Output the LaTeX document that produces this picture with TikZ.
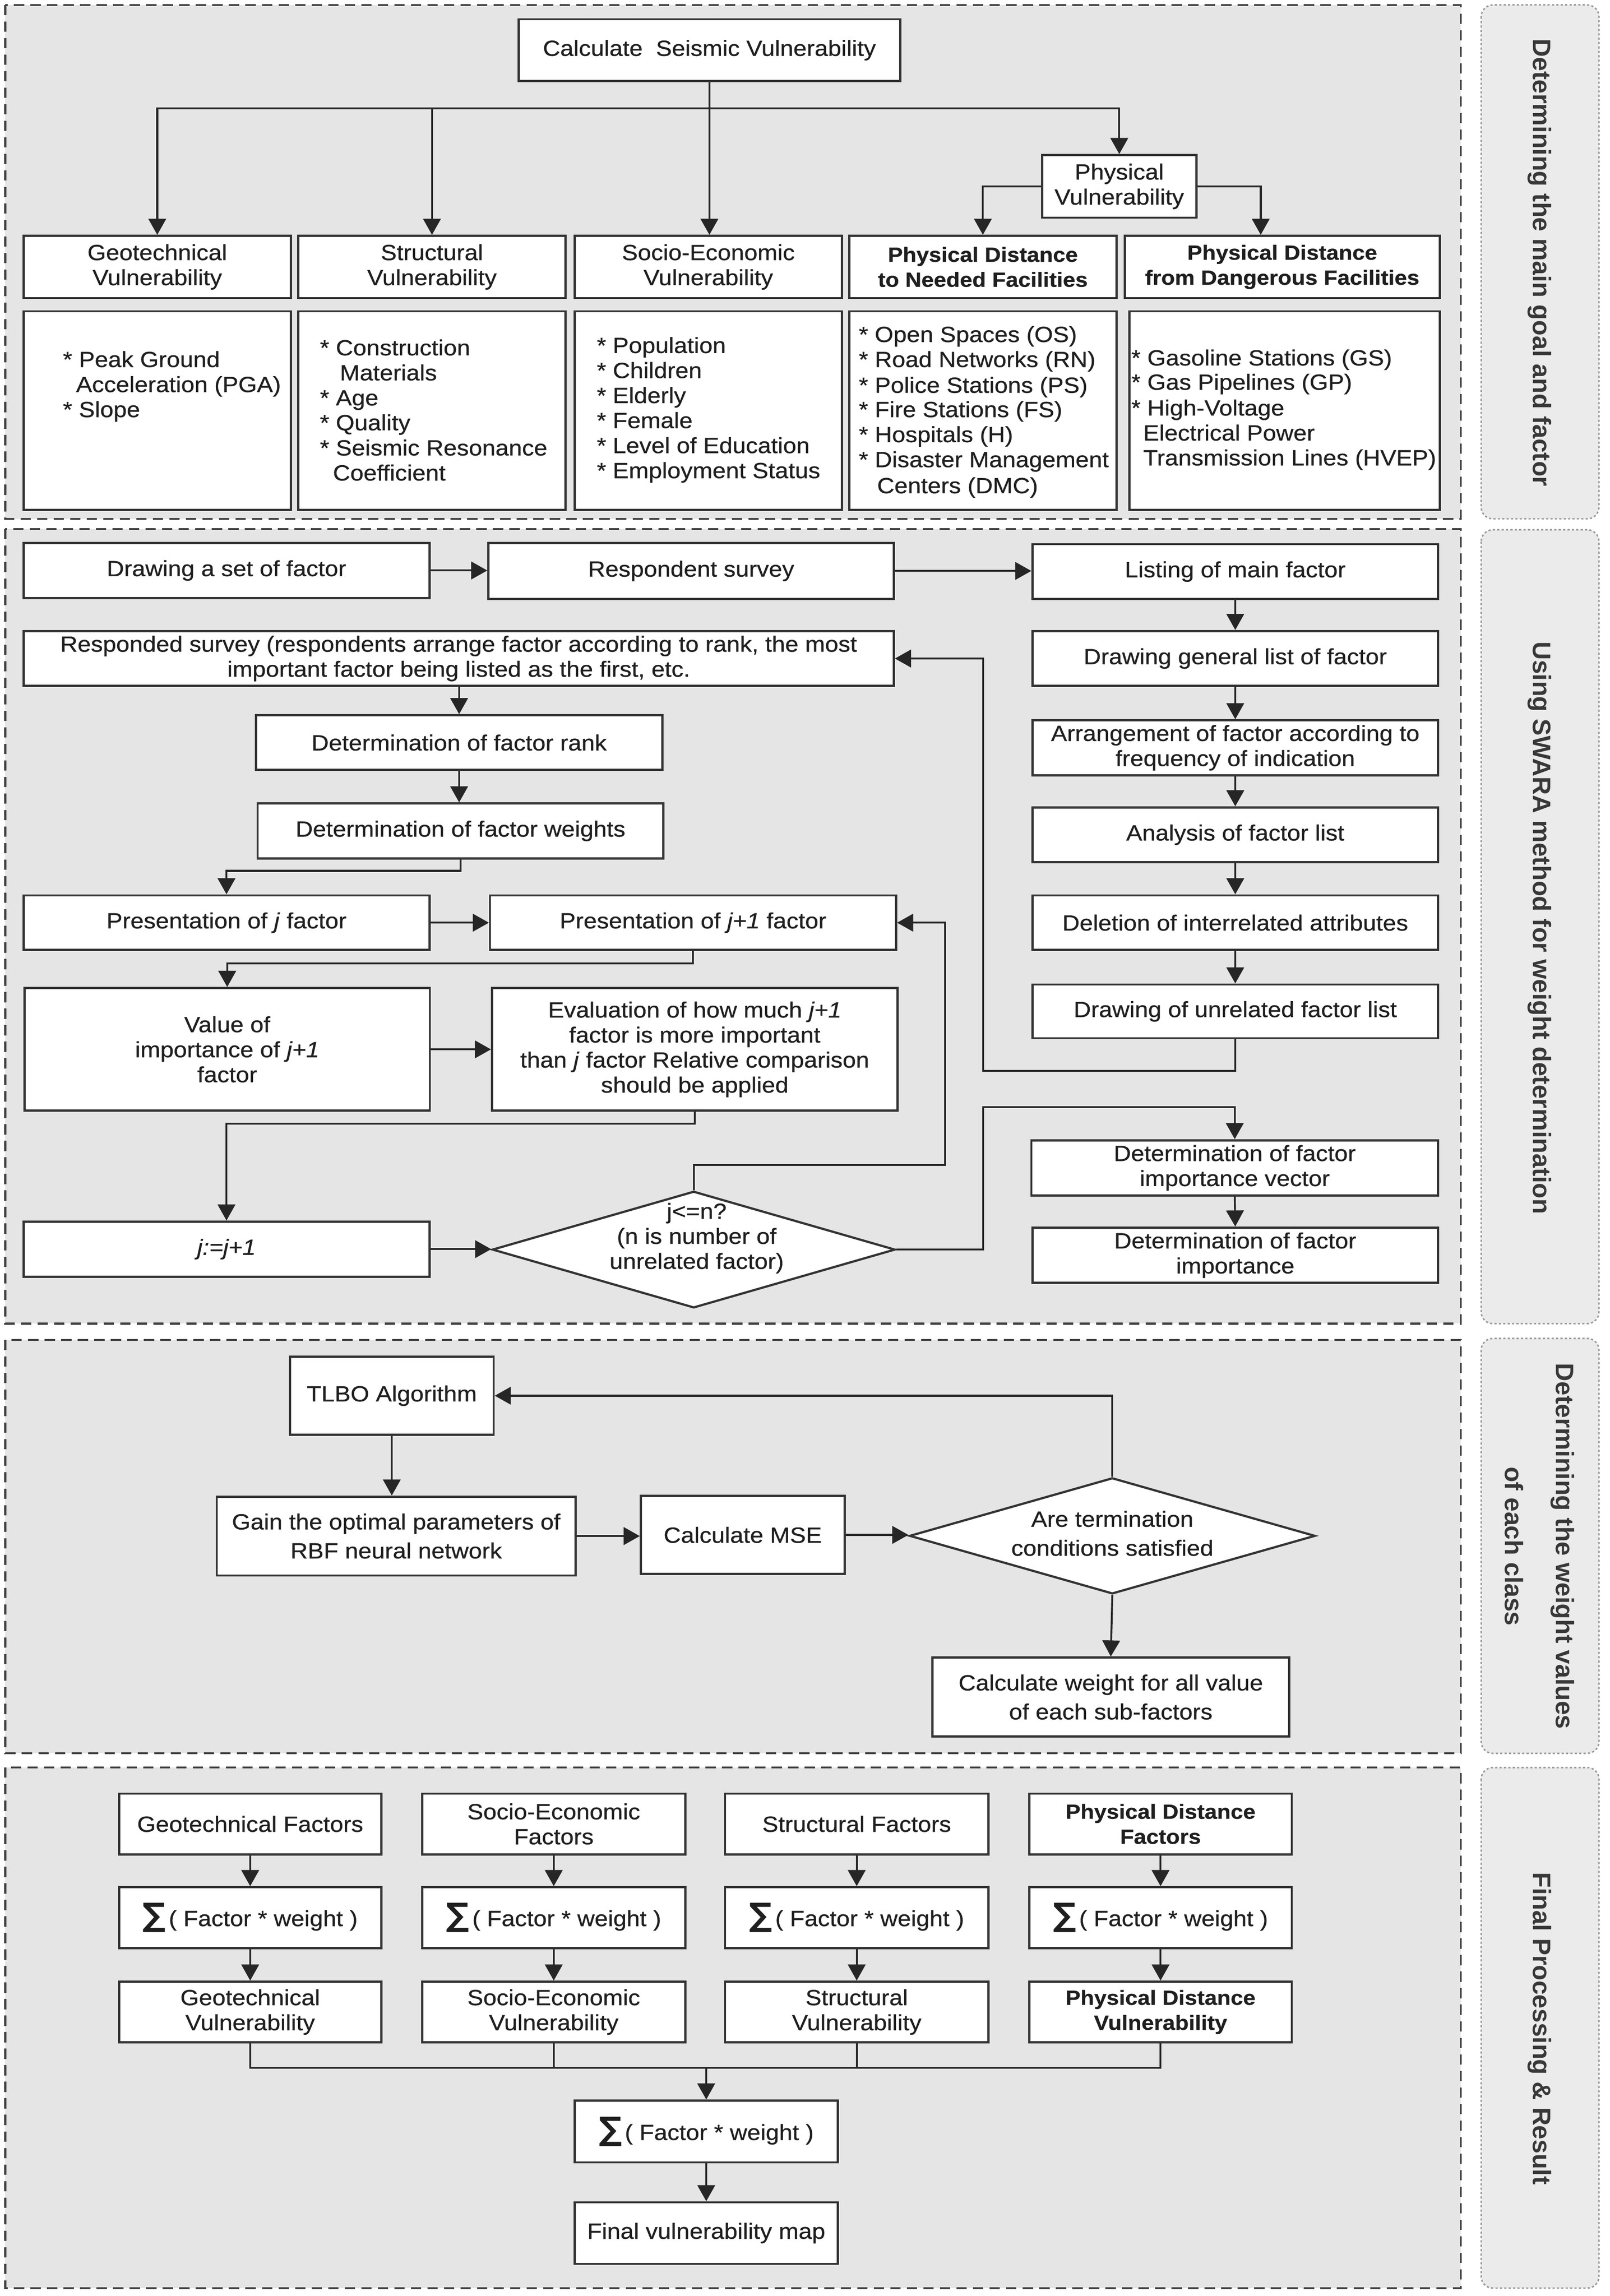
\documentclass[tikz,border=0pt]{standalone}
\usepackage{fontspec}
\setmainfont{Liberation Sans}[FakeStretch=1.09,FakeBold=0.6]
\newfontfamily\lblfont{Liberation Sans}
\newfontfamily\sigfont{DejaVu Sans}
\usetikzlibrary{arrows.meta,shapes.geometric,calc}
\colorlet{txtc}{black!88}
\tikzset{
 box/.style={draw=black!80, line width=1.5pt, fill=white, inner sep=2pt, align=center, text=txtc, font=\fontsize{15}{17.1}\selectfont},
 bbox/.style={font=\fontsize{14}{17.1}\selectfont\bfseries},
 s3box/.style={font=\fontsize{15}{19.8}\selectfont},
 lst/.style={anchor=base west, inner sep=0pt, text=txtc, font=\fontsize{15}{17.1}\selectfont},
 cn/.style={draw=black!85, line width=1.3pt},
 arr/.style={cn, -{Triangle[length=11pt,width=12pt]}},
 sect/.style={draw=black!75, line width=1.3pt, dash pattern=on 7pt off 4.3pt, fill=black!10},
 lbl/.style={draw=black!40, line width=1pt, dash pattern=on 1.5pt off 1.5pt, fill=black!8, rounded corners=8pt},
 lbltxt/.style={rotate=-90, text=black!78, font=\lblfont\bfseries\fontsize{17.3}{20}\selectfont, align=center, inner sep=0pt},
 dia/.style={diamond, draw=black!80, line width=1.5pt, fill=white, inner sep=0pt},
 diatxt/.style={align=center, inner sep=0pt, text=txtc, font=\fontsize{15}{17.1}\selectfont},
}
\newcommand{\bx}[7][]{\node[box,#1, minimum width={(#5-#3)*1pt}, minimum height={(#6-#4)*1pt}] (#2) at ({(#3+#5)/2},{(#4+#6)/2}) {#7};}
\newcommand{\li}[4]{\node[lst] (#1) at (#2,#3) {#4};}
\newcommand{\sumtxt}{{\sigfont\bfseries\fontsize{22}{22}\selectfont ∑}\kern2pt( Factor * weight )}
\begin{document}
\begin{tikzpicture}[x=1pt,y=-1pt]
\useasboundingbox (0,0) rectangle (1100,1568.8);
% sections
\draw[sect] (3.6,3.4) rectangle (998,354.5);
\draw[sect] (3.6,361.4) rectangle (998,904.4);
\draw[sect] (3.6,915.5) rectangle (998,1198);
\draw[sect] (3.6,1207.7) rectangle (998,1563.4);
\draw[lbl] (1012,3.4) rectangle (1092.5,354.5);
\draw[lbl] (1012,362) rectangle (1092.5,904.4);
\draw[lbl] (1012,914.5) rectangle (1092.5,1198);
\draw[lbl] (1012,1207.7) rectangle (1092.5,1563.4);
\node[lbltxt] (t1) at (1052,179.5) {Determining the main goal and factor};
\node[lbltxt] (t2) at (1052,634) {Using SWARA method for weight determination};
\node[lbltxt, font=\lblfont\bfseries\fontsize{17.3}{35}\selectfont] (t3) at (1052,1056.5) {Determining the weight values\\of each class};
\node[lbltxt] (t4) at (1052,1386) {Final Processing \& Result};

% ---------- section 1
\bx{calc}{354.4}{13.2}{615}{55.4}{Calculate\ \ Seismic Vulnerability}
\bx{phy}{712.1}{106}{817.4}{148.7}{Physical\\Vulnerability}
\bx{geo}{16.1}{161.2}{198.8}{203.6}{Geotechnical\\Vulnerability}
\bx{str}{203.8}{161.2}{386.5}{203.6}{Structural\\Vulnerability}
\bx{soc}{392.6}{161.2}{575.3}{203.6}{Socio-Economic\\Vulnerability}
\bx[bbox]{pdn}{580.3}{161.2}{762.8}{203.6}{Physical Distance\\to Needed Facilities}
\bx[bbox]{pdd}{768.5}{161.2}{983.7}{203.6}{Physical Distance\\from Dangerous Facilities}
\bx{geoL}{16.1}{212.7}{198.8}{348.4}{}
\bx{strL}{203.8}{212.7}{386.5}{348.4}{}
\bx{socL}{392.6}{212.7}{575.3}{348.4}{}
\bx{pdnL}{580.3}{212.7}{762.8}{348.4}{}
\bx{pddL}{771.8}{212.7}{983.7}{348.4}{}
% lists
\li{g1}{42.8}{250.8}{* Peak Ground}
\li{g2}{51.8}{267.9}{Acceleration (PGA)}
\li{g3}{42.8}{285}{* Slope}
\li{s1}{218.4}{242.8}{* Construction}
\li{s2}{232}{259.9}{Materials}
\li{s3}{218.4}{277}{* Age}
\li{s4}{218.4}{294}{* Quality}
\li{s5}{218.4}{311.2}{* Seismic Resonance}
\li{s6}{227.3}{328.3}{Coefficient}
\li{e1}{407.6}{241.2}{* Population}
\li{e2}{407.6}{258.3}{* Children}
\li{e3}{407.6}{275.4}{* Elderly}
\li{e4}{407.6}{292.5}{* Female}
\li{e5}{407.6}{309.6}{* Level of Education}
\li{e6}{407.6}{326.7}{* Employment Status}
\li{n1}{586.6}{233.7}{* Open Spaces (OS)}
\li{n2}{586.6}{250.8}{* Road Networks (RN)}
\li{n3}{586.6}{268.4}{* Police Stations (PS)}
\li{n4}{586.6}{285}{* Fire Stations (FS)}
\li{n5}{586.6}{302.1}{* Hospitals (H)}
\li{n6}{586.6}{319.2}{* Disaster Management}
\li{n7}{599.1}{337}{Centers (DMC)}
\li{d1}{772.8}{249.7}{* Gasoline Stations (GS)}
\li{d2}{772.8}{266.3}{* Gas Pipelines (GP)}
\li{d3}{772.8}{283.9}{* High-Voltage}
\li{d4}{780.9}{301}{Electrical Power}
\li{d5}{780.9}{318}{Transmission Lines (HVEP)}
% connectors
\coordinate (j1) at (484.3,74.1);
\draw[arr] (calc.south) -- (calc.south |- soc.north);
\draw[arr] (j1) -| (geo.north);
\draw[arr] (j1) -| (str.north);
\draw[arr] (j1) -| (phy.north);
\draw[arr] (phy.west) -| (pdn.north);
\draw[arr] (phy.east) -| ([xshift=-14.7pt]pdd.north);

% ---------- section 2
\bx{ndraw}{16.1}{370.9}{293.4}{408.7}{Drawing a set of factor}
\bx{nresp}{333.7}{370.9}{610.7}{409.3}{Respondent survey}
\bx{nlist}{705.4}{371.8}{982.6}{409.3}{Listing of main factor}
\bx{nresd}{16.1}{431.2}{610.7}{468.7}{Responded survey (respondents arrange factor according to rank, the most\\important factor being listed as the first, etc.}
\bx{ngen}{705.4}{431.2}{982.6}{468.7}{Drawing general list of factor}
\bx{nrank}{174.9}{488.7}{452.5}{526.1}{Determination of factor rank}
\bx{narr}{705.4}{492.2}{982.6}{529.7}{Arrangement of factor according to\\frequency of indication}
\bx{nwts}{176}{549}{453.3}{586.5}{Determination of factor weights}
\bx{nana}{705.4}{551.7}{982.6}{589.1}{Analysis of factor list}
\bx{npj}{16.1}{611.8}{293.4}{649.1}{Presentation of \textit{j} factor}
\bx{npjj}{334.8}{611.8}{612.2}{649.1}{Presentation of \textit{j+1} factor}
\bx{ndel}{705.4}{611.8}{982.6}{649.1}{Deletion of interrelated attributes}
\bx{nunr}{705.4}{672.7}{982.6}{709.4}{Drawing of unrelated factor list}
\bx{nval}{16.8}{675.1}{293.7}{758.9}{Value of\\importance of \textit{j+1}\\factor}
\bx{neval}{336.2}{675.1}{613.2}{758.9}{Evaluation of how much \textit{j+1}\\factor is more important\\than \textit{j} factor Relative comparison\\should be applied}
\bx{nvec}{704.7}{779.1}{982.6}{816.8}{Determination of factor\\importance vector}
\bx{njj}{16.1}{834.7}{293.4}{872.3}{\textit{j:=j+1}}
\bx{nimp}{705.4}{838.8}{982.6}{876.5}{Determination of factor\\importance}
\node[dia, minimum width=275.3pt, minimum height=79.7pt] (ndia) at (474,853.8) {};
\node[diatxt] (ndiat) at (476,846) {j<=n?\\(n is number of\\unrelated factor)};
% connectors
\draw[arr] (ndraw.east) -- (ndraw.east -| nresp.west);
\draw[arr] (nresp.east) -- (nresp.east -| nlist.west);
\draw[arr] (nlist.south) -- (ngen.north);
\draw[arr] (ngen.south) -- (narr.north);
\draw[arr] (narr.south) -- (nana.north);
\draw[arr] (nana.south) -- (ndel.north);
\draw[arr] (ndel.south) -- (nunr.north);
\coordinate (r1) at (671.7,731.6);
\draw[arr] (nunr.south) |- (r1) |- (nresd.east);
\draw[arr] (nresd.south -| nrank.north) -- (nrank.north);
\draw[arr] (nrank.south) -- (nrank.south |- nwts.north);
\draw[arr] (nwts.south) -- ++(0,7.8) -| (npj.north);
\draw[arr] (npj.east) -- (npj.east -| npjj.west);
\draw[arr] (npjj.south) -- ++(0,8.5) -| (nval.north);
\draw[arr] (nval.east) -- (nval.east -| neval.west);
\draw[arr] (neval.south) -- ++(0,8) -| (njj.north);
\draw[arr] (njj.east) -- (njj.east -| ndia.west);
\coordinate (r2) at (645.8,796);
\draw[arr] (ndia.north) |- (r2) |- (npjj.east);
\coordinate (r3) at (671.7,756.5);
\draw[arr] (ndia.east) -| (r3) -| (nvec.north);
\draw[arr] (nvec.south) -- (nimp.north);

% ---------- section 3
\bx[s3box]{ntlbo}{198.1}{927}{337.3}{980.3}{TLBO Algorithm}
\bx[s3box]{ngain}{148.1}{1022.6}{393.3}{1076.5}{Gain the optimal parameters of\\RBF neural network}
\bx[s3box]{nmse}{437.9}{1022}{577.1}{1075.5}{Calculate MSE}
\node[dia, minimum width=277.2pt, minimum height=79.3pt] (nterm) at (760,1049.4) {};
\node[diatxt, font=\fontsize{15}{19.8}\selectfont] (ntermt) at (760,1047.7) {Are termination\\conditions satisfied};
\bx[s3box]{ncw}{637}{1132.6}{880.9}{1186.5}{Calculate weight for all value\\of each sub-factors}
\draw[arr] (ntlbo.south) -- (ntlbo.south |- ngain.north);
\draw[arr] (ngain.east) -- (ngain.east -| nmse.west);
\draw[arr] (nmse.east) -- (nmse.east -| nterm.west);
\draw[arr] (nterm.north) |- (ntlbo.east);
\draw[arr] (nterm.south) -- (ncw.north);

% ---------- section 4
\bx{geoF}{81.4}{1225.5}{260.5}{1267}{Geotechnical Factors}
\bx{socF}{288.4}{1225.5}{468.3}{1267}{Socio-Economic\\Factors}
\bx{strF}{495.4}{1225.5}{675.3}{1267}{Structural Factors}
\bx[bbox]{phyF}{703.3}{1225.5}{882.6}{1267}{Physical Distance\\Factors}
\bx{geoS}{81.4}{1289.5}{260.5}{1331}{\sumtxt}
\bx{socS}{288.4}{1289.5}{468.3}{1331}{\sumtxt}
\bx{strS}{495.4}{1289.5}{675.3}{1331}{\sumtxt}
\bx{phyS}{703.3}{1289.5}{882.6}{1331}{\sumtxt}
\bx{geoV}{81.4}{1354}{260.5}{1395.5}{Geotechnical\\Vulnerability}
\bx{socV}{288.4}{1354}{468.3}{1395.5}{Socio-Economic\\Vulnerability}
\bx{strV}{495.4}{1354}{675.3}{1395.5}{Structural\\Vulnerability}
\bx[bbox]{phyV}{703.3}{1354}{882.6}{1395.5}{Physical Distance\\Vulnerability}
\bx{nsum}{392.6}{1435.3}{572.5}{1477.5}{\sumtxt}
\bx{nmap}{392.6}{1504.8}{572.5}{1546.8}{Final vulnerability map}
\foreach \c in {geo,soc,str,phy}{
  \draw[arr] (\c F.south) -- (\c S.north);
  \draw[arr] (\c S.south) -- (\c V.north);
}
\coordinate (j4) at (482.5,1412.8);
\draw[cn] (geoV.south) |- (j4);
\draw[cn] (phyV.south) |- (j4);
\draw[cn] (socV.south) -- (socV.south |- j4);
\draw[cn] (strV.south) -- (strV.south |- j4);
\draw[arr] (j4) -- (nsum.north);
\draw[arr] (nsum.south) -- (nmap.north);
\end{tikzpicture}
\end{document}
